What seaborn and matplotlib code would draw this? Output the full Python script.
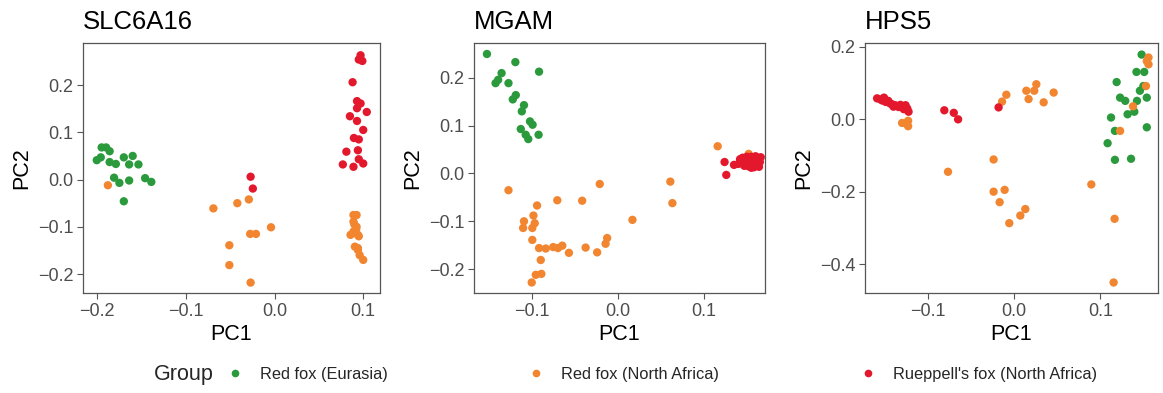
import numpy as np
import pandas as pd
import seaborn as sns
import matplotlib.pyplot as plt
from matplotlib.lines import Line2D

# groups / colours
groups = ['Red fox (Eurasia)', 'Red fox (North Africa)', "Rueppell's fox (North Africa)"]
colors = ['#2b9a3c', '#f28530', '#e3182d']

# ---- SLC6A16 ----
slc_eur_x = [-0.195, -0.190, -0.186, -0.2005, -0.196, -0.186, -0.179, -0.170, -0.160, -0.164,
             -0.1535, -0.181, -0.175, -0.164, -0.146, -0.139, -0.170]
slc_eur_y = [0.068, 0.068, 0.060, 0.041, 0.047, 0.037, 0.033, 0.047, 0.050, 0.032,
             0.032, 0.004, -0.007, -0.002, 0.003, -0.005, -0.046]
slc_naf_x = [-0.188, -0.069, -0.042, -0.029, -0.004, -0.0275, -0.021, -0.051, -0.051, -0.027,
             0.089, 0.0925, 0.089, 0.0857, 0.0925, 0.089, 0.094, 0.0906, 0.094, 0.096,
             0.100, 0.092, 0.095, 0.090, 0.094]
slc_naf_y = [-0.012, -0.061, -0.050, -0.042, -0.101, -0.115, -0.115, -0.139, -0.181, -0.218,
             -0.075, -0.075, -0.089, -0.117, -0.100, -0.110, -0.117, -0.142, -0.149, -0.160,
             -0.170, -0.105, -0.120, -0.095, -0.145]
slc_rue_x = [-0.027, -0.0245, 0.097, 0.099, 0.095, 0.088, 0.093, 0.097, 0.104, 0.093,
             0.085, 0.093, 0.100, 0.0895, 0.095, 0.081, 0.094, 0.077, 0.089, 0.095, 0.100]
slc_rue_y = [0.006, -0.019, 0.263, 0.251, 0.254, 0.206, 0.166, 0.161, 0.143, 0.151,
             0.134, 0.124, 0.105, 0.088, 0.085, 0.059, 0.062, 0.032, 0.027, 0.043, 0.034]

# ---- MGAM ----
mgam_eur_x = [-0.152, -0.119, -0.0915, -0.135, -0.139, -0.142, -0.127, -0.1185, -0.122, -0.109,
              -0.1115, -0.102, -0.099, -0.1127, -0.107, -0.104, -0.092]
mgam_eur_y = [0.250, 0.233, 0.213, 0.210, 0.196, 0.189, 0.189, 0.164, 0.155, 0.143,
              0.130, 0.109, 0.102, 0.093, 0.081, 0.072, 0.081]
mgam_naf_x = [-0.127, -0.021, -0.0703, -0.0414, -0.0938, 0.017, -0.098, -0.109, -0.0965, -0.110,
              -0.0993, -0.0993, -0.0915, -0.0837, -0.075, -0.0695, -0.0645, -0.0568, -0.0374, -0.024,
              -0.0142, -0.0124, -0.0895, -0.0953, -0.0888, -0.100, 0.116, 0.061, 0.0634, 0.152]
mgam_naf_y = [-0.035, -0.022, -0.056, -0.057, -0.067, -0.097, -0.088, -0.100, -0.104, -0.114,
              -0.114, -0.139, -0.156, -0.157, -0.154, -0.156, -0.151, -0.166, -0.155, -0.165,
              -0.147, -0.135, -0.181, -0.212, -0.210, -0.228, 0.057, -0.017, -0.062, 0.041]
mgam_rue_x = [0.124, 0.126, 0.135, 0.140, 0.143, 0.145, 0.148, 0.150, 0.152, 0.153,
              0.155, 0.156, 0.158, 0.158, 0.160, 0.160, 0.162, 0.163, 0.164, 0.165,
              0.166, 0.150, 0.155, 0.147, 0.142]
mgam_rue_y = [0.024, -0.003, 0.018, 0.020, 0.025, 0.033, 0.030, 0.022, 0.015, 0.028,
              0.035, 0.020, 0.013, 0.030, 0.025, 0.036, 0.018, 0.030, 0.014, 0.024,
              0.034, 0.035, 0.012, 0.016, 0.030]

# ---- HPS5 ----
hps_eur_x = [0.148, 0.142, 0.151, 0.119, 0.150, 0.146, 0.123, 0.129, 0.154, 0.1426,
             0.1395, 0.1317, 0.1125, 0.117, 0.154, 0.1085, 0.117, 0.1357]
hps_eur_y = [0.179, 0.131, 0.131, 0.103, 0.092, 0.079, 0.060, 0.051, 0.060, 0.051,
             0.021, 0.014, 0.005, -0.032, -0.022, -0.066, -0.112, -0.109]
hps_naf_x = [-0.130, -0.123, -0.123, -0.126, -0.0767, -0.0238, -0.0238, -0.011, -0.0168, 0.013,
             0.0072, -0.0056, -0.009, -0.014, 0.0142, 0.0258, 0.0234, 0.0168, 0.0343, 0.0459,
             0.156, 0.156, 0.154, 0.153, 0.138, 0.123, 0.0896, 0.1166, 0.1155]
hps_naf_y = [-0.010, -0.004, -0.019, -0.011, -0.145, -0.111, -0.200, -0.195, -0.229, -0.248,
             -0.266, -0.287, 0.068, 0.049, 0.079, 0.097, 0.079, 0.056, 0.047, 0.074,
             0.171, 0.152, 0.161, 0.092, 0.036, -0.032, -0.180, -0.275, -0.451]
hps_rue_x = [-0.159, -0.155, -0.151, -0.149, -0.146, -0.142, -0.138, -0.134, -0.130, -0.126,
             -0.124, -0.1225, -0.153, -0.144, -0.132, -0.128, -0.140, -0.081, -0.070, -0.065, -0.018]
hps_rue_y = [0.058, 0.055, 0.060, 0.048, 0.051, 0.042, 0.039, 0.034, 0.036, 0.039,
             0.030, 0.021, 0.052, 0.044, 0.040, 0.028, 0.035, 0.025, 0.018, 0.000, 0.033]


def make_df(xs, ys):
    rows = []
    for g, x, y in zip(groups, xs, ys):
        rows.append(pd.DataFrame({'PC1': x, 'PC2': y, 'Group': g}))
    return pd.concat(rows, ignore_index=True)


panels = [
    ('SLC6A16', make_df([slc_eur_x, slc_naf_x, slc_rue_x], [slc_eur_y, slc_naf_y, slc_rue_y]),
     (-0.216, 0.119), (-0.24, 0.289), [-0.2, -0.1, 0.0, 0.1], [-0.2, -0.1, 0.0, 0.1, 0.2]),
    ('MGAM', make_df([mgam_eur_x, mgam_naf_x, mgam_rue_x], [mgam_eur_y, mgam_naf_y, mgam_rue_y]),
     (-0.167, 0.171), (-0.25, 0.273), [-0.1, 0.0, 0.1], [-0.2, -0.1, 0.0, 0.1, 0.2]),
    ('HPS5', make_df([hps_eur_x, hps_naf_x, hps_rue_x], [hps_eur_y, hps_naf_y, hps_rue_y]),
     (-0.173, 0.167), (-0.48, 0.211), [-0.1, 0.0, 0.1], [-0.4, -0.2, 0.0, 0.2]),
]

sns.set_theme(style='white')
plt.rcParams['font.family'] = ['Liberation Sans', 'DejaVu Sans']
plt.rcParams['axes.unicode_minus'] = True

fig = plt.figure(figsize=(11.63, 3.93), dpi=100)
lefts = [0.0714, 0.4076, 0.7438]
widths = [0.2554, 0.2502, 0.2519]
palette = dict(zip(groups, colors))

for (title, df, xl, yl, xt, yt), l, w in zip(panels, lefts, widths):
    ax = fig.add_axes([l, 0.2545, w, 0.6361])
    sns.scatterplot(data=df, x='PC1', y='PC2', hue='Group', palette=palette,
                    s=36, linewidth=0, alpha=1, legend=False, ax=ax)
    ax.set_xlim(*xl)
    ax.set_ylim(*yl)
    ax.set_xticks(xt)
    ax.set_yticks(yt)
    ax.set_xticklabels([f'{v:.1f}'.replace('-', '\u2212') for v in xt])
    ax.set_yticklabels([f'{v:.1f}'.replace('-', '\u2212') for v in yt])
    ax.tick_params(axis='both', which='both', direction='out', length=4, width=0.8,
                   color='#555555', labelcolor='#4d4d4d', labelsize=13, pad=3, bottom=True, left=True)
    for sp in ax.spines.values():
        sp.set_color('#555555')
        sp.set_linewidth(0.9)
    ax.set_xlabel('PC1', fontsize=15.5, color='black', labelpad=3)
    ax.set_ylabel('PC2', fontsize=15.5, color='black', labelpad=4)
    ax.set_title(title, loc='left', fontsize=18.5, color='black', pad=10)

handles = [Line2D([0], [0], marker='o', linestyle='', markersize=5.5,
                  markerfacecolor=c, markeredgewidth=0) for c in colors]
fig.legend(handles, groups, loc='center', bbox_to_anchor=(0.569, 0.048), ncol=3,
           frameon=False, fontsize=11.8, handletextpad=1.0, columnspacing=8.6, handlelength=1.0)
fig.text(0.158, 0.048, 'Group', fontsize=15.5, va='center', ha='center')

fig.savefig('out.png', dpi=100)
